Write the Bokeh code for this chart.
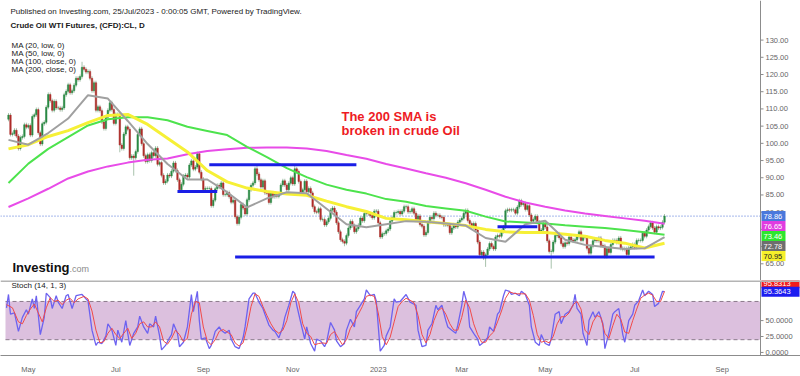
import numpy as np
from bokeh.plotting import figure
from bokeh.layouts import column
from bokeh.models import Range1d, FixedTicker, Label, Span, BoxAnnotation
from bokeh.core.properties import value
from bokeh.embed import file_html
from bokeh.resources import INLINE

# ---------------- data ----------------
# daily closes, bar 0 = 18 Apr 2022 ... bar 330 = 24 Jul 2023 (one row per week)
closes = [
    108.2, 102.6, 102.8, 103.8, 102.1,
    98.5, 101.7, 102.0, 105.4, 104.7,
    105.2, 102.4, 107.8, 108.3, 109.8,
    103.1, 99.8, 105.7, 106.1, 110.5,
    114.2, 112.4, 109.6, 112.2, 110.3,
    110.3, 109.8, 110.3, 114.1, 115.1,
    117.0, 114.7, 115.3, 116.9, 118.9,
    118.5, 119.4, 122.1, 121.5, 120.7,
    120.9, 118.9, 115.3, 117.6, 109.6,
    110.6, 109.5, 106.2, 104.3, 107.6,
    109.6, 111.8, 109.8, 105.8, 108.4,
    108.4, 99.5, 98.5, 102.7, 104.8,
    104.1, 95.8, 96.3, 95.8, 97.6,
    102.6, 104.2, 99.9, 96.4, 94.7,
    96.7, 95.0, 97.3, 96.4, 98.6,
    93.9, 94.4, 90.7, 88.5, 89.0,
    90.8, 90.5, 91.9, 94.3, 92.1,
    89.4, 86.5, 88.1, 90.5, 90.8,
    90.2, 93.7, 94.9, 92.5, 93.1,
    97.0, 91.6, 89.6, 86.6, 86.9,
    86.9, 86.9, 81.9, 83.5, 86.8,
    87.8, 87.3, 88.5, 85.1, 85.1,
    85.7, 84.5, 82.9, 83.5, 78.7,
    76.7, 78.5, 82.2, 81.2, 79.5,
    83.6, 86.5, 87.8, 88.5, 92.6,
    91.1, 89.4, 87.3, 89.1, 85.6,
    85.5, 82.8, 85.6, 84.5, 85.1,
    84.6, 85.3, 87.9, 89.1, 87.9,
    86.5, 88.4, 90.0, 88.2, 92.6,
    91.8, 88.9, 85.8, 86.5, 89.0,
    85.9, 86.9, 85.6, 81.6, 80.1,
    80.0, 81.0, 77.9, 77.9, 76.3,
    77.2, 78.2, 80.6, 81.2, 80.0,
    76.9, 74.3, 72.0, 71.5, 71.0,
    73.2, 75.4, 77.3, 76.1, 74.3,
    75.2, 76.2, 78.3, 77.5, 79.6,
    79.6, 79.5, 79.0, 78.4, 80.3,
    80.3, 76.9, 72.8, 73.7, 73.8,
    74.6, 75.1, 77.4, 78.4, 79.9,
    79.9, 80.2, 79.5, 80.3, 81.6,
    81.6, 80.1, 80.2, 81.0, 79.7,
    77.9, 78.9, 76.4, 75.9, 73.4,
    74.1, 77.1, 78.5, 78.1, 79.7,
    79.1, 79.1, 78.6, 78.5, 76.3,
    76.3, 76.2, 74.0, 75.4, 76.3,
    75.7, 77.1, 77.7, 78.2, 79.7,
    80.5, 77.6, 76.7, 75.7, 76.7,
    74.8, 71.3, 67.6, 68.4, 66.7,
    67.6, 69.3, 70.9, 70.0, 69.3,
    72.8, 73.2, 73.0, 74.4, 75.7,
    80.4, 80.7, 80.6, 80.7, 80.7,
    79.7, 81.5, 83.3, 82.2, 82.5,
    80.8, 81.9, 79.2, 77.4, 77.9,
    78.8, 77.1, 74.3, 74.8, 76.8,
    75.7, 71.7, 68.6, 68.6, 71.3,
    73.2, 73.7, 72.6, 70.9, 70.0,
    71.1, 70.9, 72.8, 71.9, 71.6,
    72.0, 72.9, 74.3, 71.8, 72.7,
    72.7, 69.5, 68.1, 70.1, 71.7,
    72.2, 71.7, 72.5, 70.3, 70.2,
    67.1, 69.4, 68.3, 70.6, 71.8,
    71.8, 71.2, 72.5, 69.5, 69.2,
    69.4, 67.7, 69.6, 69.9, 70.6,
    69.8, 71.8, 71.8, 71.8, 73.9,
    73.0, 74.8, 75.8, 76.9, 75.4,
    74.2, 75.8, 75.4, 75.6, 77.1,
    78.86,
]
first_open = 107.0
spike_low_idx = [56, 63, 115, 169, 240, 273]
spike_low = [97.4, 90.6, 76.3, 70.1, 64.1, 63.6]
spike_high_idx = [37, 125, 144, 231, 257]
spike_high = [123.7, 93.6, 93.7, 80.9, 83.5]

# moving averages, read every 10 bars
ma_idx = [0, 10, 20, 30, 40, 50, 60, 70, 80, 90, 100, 110, 120, 130, 140, 150, 160,
          170, 180, 190, 200, 210, 220, 230, 240, 250, 260, 270, 280, 290, 300, 310, 320, 330]
ma20_low = [101.0, 99.6, 103.0, 107.2, 114.0, 113.0, 106.5, 99.8, 94.0, 89.5, 89.5, 85.8,
            81.4, 84.0, 85.8, 85.5, 81.0, 76.5, 75.6, 76.5, 77.4, 77.2, 76.7, 76.1, 72.5,
            71.4, 76.5, 77.5, 72.0, 70.5, 69.9, 69.3, 69.5, 72.78]
ma50_low = [98.4, 99.6, 102.0, 103.7, 106.0, 108.1, 108.4, 105.5, 101.5, 97.5, 92.1, 88.8,
            87.0, 86.0, 85.3, 84.9, 83.2, 81.6, 80.2, 78.2, 77.8, 77.2, 76.7, 76.1, 75.0,
            74.3, 74.1, 74.1, 73.6, 73.0, 71.8, 71.0, 69.6, 70.95]
ma100_close = [88.5, 94.1, 98.4, 101.8, 105.2, 107.0, 107.6, 107.6, 106.7, 104.8, 103.6, 102.4,
               99.0, 96.0, 92.8, 90.2, 88.0, 86.5, 85.4, 83.8, 83.0, 81.8, 81.1, 80.4, 78.7,
               77.3, 77.0, 76.7, 76.2, 75.8, 75.4, 74.8, 74.2, 73.46]
ma200_close = [81.5, 84.0, 86.8, 89.8, 91.8, 93.3, 94.4, 95.2, 95.6, 96.8, 97.8, 98.3,
               98.7, 98.8, 98.8, 98.5, 97.8, 96.6, 95.5, 94.0, 92.7, 91.3, 90.0, 88.4, 86.5,
               84.5, 82.8, 81.6, 80.5, 79.6, 78.9, 78.2, 77.5, 76.65]

# drawn horizontal levels
level_price = [86.0, 93.8, 75.8, 67.0]
level_start = [85, 101, 246, 114]
level_end = [105, 175, 266, 325]

# stochastic (14, 1, 3)
k_idx = [-1, 0, 1, 3, 5, 7, 9, 10, 12, 13, 14, 16, 18, 19, 21, 22, 24, 25, 27, 29, 30, 32, 34, 37,
         39, 40, 42, 44, 45, 47, 49, 50, 52, 54, 55, 57, 59, 60, 61, 63, 65, 66, 68, 70, 71, 73,
         74, 76, 77, 79, 81, 82, 83, 85, 86, 88, 90, 92, 93, 95, 96, 97, 99, 101, 102, 104, 106,
         107, 109, 111, 112, 114, 116, 118, 119, 121, 123, 124, 126, 128, 129, 131, 133, 134,
         136, 138, 139, 141, 143, 144, 145, 147, 149, 150, 152, 154, 155, 157, 159, 160, 162,
         164, 165, 167, 169, 170, 172, 174, 175, 177, 179, 180, 182, 184, 185, 187, 189, 190,
         192, 194, 195, 197, 200, 202, 205, 206, 208, 210, 211, 213, 215, 216, 218, 220, 221,
         223, 225, 226, 228, 229, 231, 232, 234, 236, 237, 239, 241, 242, 244, 246, 247, 249,
         250, 252, 253, 255, 257, 258, 260, 262, 263, 265, 267, 268, 270, 272, 273, 275, 277,
         278, 280, 282, 284, 285, 286, 288, 289, 291, 292, 294, 295, 297, 299, 300, 302, 304,
         305, 307, 309, 310, 312, 314, 315, 317, 319, 320, 322, 324, 325, 327, 329, 330]
k_val = [70, 91, 60, 62, 33, 55, 67, 60, 84, 69, 89, 28, 55, 93, 86, 69, 89, 79, 69, 89, 91, 69, 89, 91,
         84, 81, 35, 11, 16, 14, 26, 45, 35, 11, 35, 16, 50, 30, 11, 30, 40, 57, 40, 30, 45, 40,
         57, 26, 4, 11, 23, 28, 45, 30, 9, 16, 40, 91, 64, 96, 50, 21, 23, 6, 11, 33, 40,
         35, 30, 35, 21, 9, 6, 23, 40, 84, 93, 93, 79, 69, 60, 43, 35, 33,
         23, 40, 55, 74, 96, 93, 74, 47, 21, 40, 14, 2, 21, 18, 9, 16, 47,
         35, 18, 9, 14, 35, 52, 40, 64, 74, 84, 98, 89, 91, 81, 2, 11, 26,
         40, 84, 79, 80, 91, 79, 74, 35, 9, 11, 35, 45, 74, 67, 74, 50, 40,
         35, 30, 43, 74, 96, 74, 40, 30, 21, 11, 16, 23, 40, 33, 60, 64, 89,
         98, 96, 91, 93, 89, 96, 91, 74, 40, 16, 11, 28, 14, 11, 21, 60, 64,
         45, 60, 64, 74, 91, 69, 60, 30, 11, 50, 64, 55, 64, 45, 6, 30, 60,
         64, 69, 28, 16, 50, 60, 74, 81, 98, 89, 96, 91, 72, 77, 96, 95.3643]
d_idx = [-1, 2, 5, 7, 9, 11, 13, 15, 17, 19, 21, 23, 25, 27, 29, 31, 33, 35, 38, 40, 42, 44, 46, 48,
         50, 52, 54, 56, 58, 60, 62, 64, 66, 68, 70, 72, 74, 76, 78, 80, 82, 84, 86, 88, 90, 92,
         94, 96, 98, 100, 102, 104, 106, 108, 110, 112, 114, 116, 118, 120, 122, 124, 126, 128,
         130, 132, 134, 136, 138, 140, 142, 144, 146, 148, 150, 152, 154, 156, 158, 160, 162,
         164, 166, 168, 170, 172, 174, 176, 178, 180, 182, 184, 186, 188, 190, 192, 194, 196,
         198, 200, 202, 204, 206, 208, 210, 212, 214, 216, 218, 220, 222, 224, 226, 228, 230,
         232, 234, 236, 238, 240, 242, 244, 246, 248, 250, 252, 254, 256, 258, 260, 262, 264,
         266, 268, 270, 272, 274, 276, 278, 280, 282, 284, 286, 288, 290, 292, 294, 296, 298,
         300, 302, 304, 306, 308, 310, 312, 314, 316, 318, 320, 322, 324, 326, 328, 330]
d_val = [75, 70, 48, 45, 58, 68, 76, 62, 48, 70, 86, 80, 82, 75, 82, 85, 78, 84, 88, 84, 65, 35, 15, 17,
         30, 38, 28, 22, 30, 38, 22, 30, 45, 48, 40, 40, 48, 40, 18, 13, 22, 35, 28, 17, 22, 60,
         80, 78, 40, 18, 12, 20, 33, 36, 32, 28, 15, 10, 15, 40, 72, 92, 88, 72,
         58, 45, 35, 30, 35, 50, 78, 92, 78, 45, 30, 25, 12, 14, 15, 14, 28,
         33, 22, 12, 20, 38, 48, 60, 72, 88, 90, 88, 62, 25, 12, 24, 48, 72,
         80, 85, 82, 78, 58, 28, 15, 28, 50, 65, 70, 60, 45, 35, 35, 55, 82,
         70, 45, 28, 16, 16, 26, 32, 48, 65, 85, 95, 93, 92, 92, 92, 82, 58,
         28, 16, 18, 15, 25, 45, 56, 56, 62, 75, 80, 68, 35, 28, 48, 58, 55,
         30, 22, 42, 60, 52, 32, 30, 50, 68, 85, 90, 93, 90, 80, 80, 95.8313]

price_ticks = [65, 70, 75, 80, 85, 90, 95, 100, 105, 110, 115, 120, 125, 130]
stoch_ticks = [0, 25, 50]
month_ticks = [10, 54, 98, 143, 186, 228, 270, 315, 359]
month_labels = ["May", "Jul", "Sep", "Nov", "2023", "Mar", "May", "Jul", "Sep"]

# ---------------- build ----------------
FONT = "Liberation Sans"
close = np.array(closes, dtype=float)
opens = np.concatenate([[first_open], close[:-1]])
idx = np.arange(len(close))
wick_pad = 0.6
hi = np.maximum(opens, close) + wick_pad
lo = np.minimum(opens, close) - wick_pad
for i, v in zip(spike_low_idx, spike_low):
    lo[i] = min(lo[i], v)
for i, v in zip(spike_high_idx, spike_high):
    hi[i] = max(hi[i], v)
up = close >= opens

W = 800
X0, X1 = -4.02, 398.4          # frame spans the full width
PX = (X1 - X0) / W             # data units per screen pixel
XA = X0 + 760 * PX             # price-scale line position
P0, P1 = 60.15, 141.5
PH = 280
PPY = PH / (P1 - P0)
AX_COL = "#8c8c8c"
LBL_COL = "#666666"


def scale_axis(fig, ticks, fmt, ylo, yhi):
    n = len(ticks)
    fig.segment(x0=[XA], y0=[ylo], x1=[XA], y1=[yhi], line_color=AX_COL, line_width=1)
    fig.segment(x0=[XA] * n, y0=ticks, x1=[XA + 3 * PX] * n, y1=ticks,
                line_color=AX_COL, line_width=1)
    fig.text(x=[XA + 5 * PX] * n, y=ticks, text=[fmt.format(t) for t in ticks],
             text_font=value(FONT), text_font_size="7.5px", text_color=LBL_COL,
             text_baseline="middle", text_align="left")


def value_boxes(fig, ys, texts, bgs, fgs, box_w):
    n = len(ys)
    fig.rect(x=[XA + (1 + box_w / 2) * PX] * n, y=ys, width=box_w, height=10,
             width_units="screen", height_units="screen", fill_color=bgs, line_color=None)
    fig.text(x=[XA + 3 * PX] * n, y=ys, text=texts, text_font=value(FONT),
             text_font_size="7.5px", text_color=fgs, text_baseline="middle", text_align="left")


p = figure(width=W, height=PH, output_backend="svg", toolbar_location=None,
           x_range=Range1d(X0, X1), y_range=Range1d(P0, P1),
           min_border_left=0, min_border_right=0, min_border_top=0, min_border_bottom=0,
           y_axis_location=None, x_axis_location=None)
p.grid.grid_line_color = None
p.outline_line_color = None

# current price dotted line
p.segment(x0=[X0], y0=[close[-1]], x1=[XA], y1=[close[-1]], line_color="#4a6fd6",
          line_width=1, line_dash="1 2")

# candles
wick_col = "#a8c2ac"
p.segment(idx, lo, idx, hi, line_color=wick_col, line_width=1)
p.vbar(x=idx[up], top=close[up], bottom=opens[up], width=0.75,
       fill_color="#2b8a45", line_color="#2b8a45", line_width=0.5)
p.vbar(x=idx[~up], top=opens[~up], bottom=close[~up], width=0.75,
       fill_color="#ae2d2a", line_color="#ae2d2a", line_width=0.5)

# moving averages
p.line(ma_idx, ma200_close, line_color="#e84ce8", line_width=2)
p.line(ma_idx, ma100_close, line_color="#4de34d", line_width=2)
p.line(ma_idx, ma50_low, line_color="#f6f036", line_width=3)
p.line(ma_idx, ma20_low, line_color="#a0a0a0", line_width=2)

# drawn levels
p.segment(level_start, level_price, level_end, level_price, line_color="#1a1ee6", line_width=3)

# annotation
for k, t in enumerate(["The 200 SMA is", "broken in crude Oil"]):
    p.add_layout(Label(x=167.5, y=107.8, y_offset=-14 * k, text=t, text_color="#ee1b24",
                       text_font=FONT, text_font_style="bold", text_font_size="13px",
                       text_baseline="middle", text_align="left"))

# header texts (screen units relative to frame bottom-left)
hdr = [("Published on Investing.com, 25/Jul/2023 - 0:00:05 GMT, Powered by TradingView.", 11, "normal"),
       ("Crude Oil WTI Futures, (CFD):CL, D", 25, "bold"),
       ("MA (20, low, 0)", 45, "normal"),
       ("MA (50, low, 0)", 53, "normal"),
       ("MA (100, close, 0)", 61, "normal"),
       ("MA (200, close, 0)", 69, "normal")]
for t, yy, st in hdr:
    xo = 10 if yy < 30 else 11
    p.add_layout(Label(x=xo, y=PH - yy, x_units="screen", y_units="screen", text=t,
                       text_font=FONT, text_font_size="8px", text_color="#1a1a1a",
                       text_font_style=st, text_baseline="middle"))
p.add_layout(Label(x=12, y=PH - 267, x_units="screen", y_units="screen", text="Investing",
                   text_font=FONT, text_font_size="13px", text_font_style="bold",
                   text_color="#111111", text_baseline="middle"))
p.add_layout(Label(x=69, y=PH - 268, x_units="screen", y_units="screen", text=".com",
                   text_font=FONT, text_font_size="9px", text_color="#8a8a8a",
                   text_baseline="middle"))

# price scale
scale_axis(p, price_ticks, "{:.2f}", P0, P1)

# right-side value boxes, stacked so they do not overlap
vals = [close[-1], ma200_close[-1], ma100_close[-1], ma20_low[-1], ma50_low[-1]]
bgs = ["#4a78dc", "#e03ce0", "#2ee62e", "#6e6e6e", "#f6f02a"]
fgs = ["white", "white", "white", "white", "#222222"]
ys, prev = [], None
for v in vals:
    sy = (P1 - v) * PPY
    if prev is not None and sy < prev + 10:
        sy = prev + 10
    prev = sy
    ys.append(P1 - sy / PPY)
value_boxes(p, ys, [f"{v:.2f}" for v in vals], bgs, fgs, 24)

# ---------------- stochastic pane ----------------
S0, S1 = -4.8, 112.9
SH = 96
s = figure(width=W, height=SH, output_backend="svg", toolbar_location=None,
           x_range=p.x_range, y_range=Range1d(S0, S1),
           min_border_left=0, min_border_right=0, min_border_top=0, min_border_bottom=15,
           y_axis_location=None)
s.grid.grid_line_color = None
s.outline_line_color = None
s.add_layout(BoxAnnotation(left=X0 + 5 * PX, right=XA, bottom=20, top=80, fill_color="#dcc0de",
                           fill_alpha=1.0, line_color=None, level="underlay"))
s.segment(x0=[X0 + 5 * PX] * 2, y0=[20, 80], x1=[XA] * 2, y1=[20, 80], line_color="#8a7a8a",
          line_width=1, line_dash="4 3")
s.add_layout(Span(location=112.2, dimension="width", line_color="#b4b4b4", line_width=2))
s.line(k_idx, k_val, line_color="#6d62f0", line_width=1.3)
s.line(d_idx, d_val, line_color="#f04a4a", line_width=1)

scale_axis(s, stoch_ticks, "{:.4f}", S0, S1)
SPY = (SH - 15) / (S1 - S0)
ky = k_val[-1]
dy = ky + 9 / SPY
value_boxes(s, [dy, ky], [f"{d_val[-1]:.4f}", f"{k_val[-1]:.4f}"],
            ["#f01c1c", "#1c1cf0"], ["white", "white"], 38)

xa = s.xaxis[0]
xa.ticker = FixedTicker(ticks=month_ticks)
xa.major_label_overrides = {t: l for t, l in zip(month_ticks, month_labels)}
xa.major_label_text_font = FONT
xa.major_label_text_font_size = "7.5px"
xa.major_label_text_color = LBL_COL
xa.axis_line_color = AX_COL
xa.major_tick_line_color = None
xa.minor_tick_line_color = None
xa.major_label_standoff = 3

s.add_layout(Label(x=11, y=70, x_units="screen", y_units="screen", text="Stoch (14, 1, 3)",
                   text_font=FONT, text_font_size="8px", text_color="#1a1a1a",
                   text_baseline="middle"))

layout = column(p, s, spacing=0)
open("out.html", "w").write(file_html(layout, INLINE))
